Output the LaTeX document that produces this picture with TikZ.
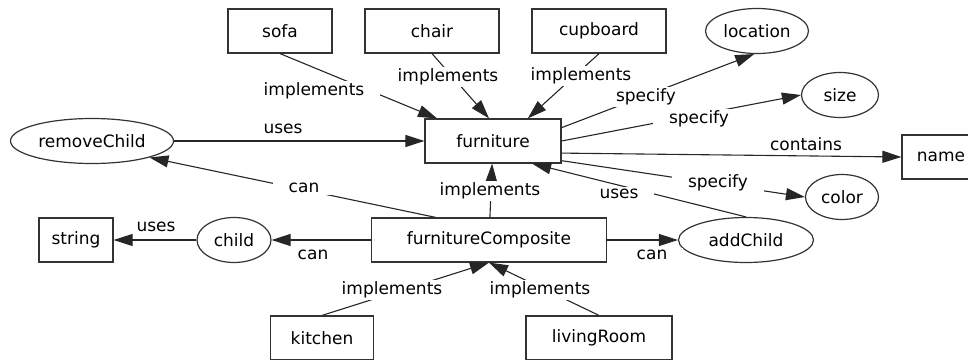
\documentclass[tikz,border=0pt]{standalone}
\usepackage{fontspec}
\setmainfont{DejaVu Sans}
\usetikzlibrary{shapes.geometric,arrows.meta}

\begin{document}
\begin{tikzpicture}[x=1pt, y=-1pt, >={Triangle[length=19pt,width=12pt]},
    every node/.style={font=\fontsize{17}{20}\selectfont},
    box/.style={draw=black!80, line width=1.2pt, minimum height=44pt, inner sep=0pt},
    oval/.style={ellipse, draw=black!80, line width=1.2pt, minimum height=45pt, inner sep=0pt},
    lbl/.style={fill=white, inner xsep=16pt, inner ysep=2pt},
    link/.style={->, line width=1.1pt, draw=black!85}]
    \useasboundingbox (0,0) rectangle (968,359);

    % Classes
    \node[box, minimum width=104pt] (sofa) at (280,31) {sofa};
    \node[box, minimum width=134pt] (chair) at (432,31) {chair};
    \node[box, minimum width=134pt] (cupboard) at (599,31) {cupboard};
    \node[box, minimum width=136pt] (furniture) at (493,141) {furniture};
    \node[box, minimum width=78pt] (name) at (941,157) {name};
    \node[box, minimum width=74pt] (string) at (76,240) {string};
    \node[box, minimum width=235pt] (furnitureComposite) at (489,240) {furnitureComposite};
    \node[box, minimum width=103pt] (kitchen) at (322,338) {kitchen};
    \node[box, minimum width=146pt] (livingRoom) at (599,338) {livingRoom};

    % Properties and methods
    \node[oval, minimum width=103pt] (location) at (757,31) {location};
    \node[oval, minimum width=77pt] (size) at (840,95) {size};
    \node[oval, minimum width=73pt] (color) at (842,197) {color};
    \node[oval, minimum width=163pt] (removeChild) at (92,141) {removeChild};
    \node[oval, minimum width=74pt] (child) at (234,240) {child};
    \node[oval, minimum width=135pt] (addChild) at (746,240) {addChild};

    % Relations
    \draw[link] (sofa.south) -- (furniture.158);
    \draw[link] (chair.south) -- (furniture.100);
    \draw[link] (cupboard.south) -- (furniture.33);
    \draw[link] (furniture.11) -- (location.-97);
    \draw[link] (furniture.east) -- (size.west);
    \draw[link] (furniture.-10) -- (name.west);
    \draw[link] (furniture.-16) -- (color.west);
    \draw[link] (addChild.north) -- (furniture.-30);
    \draw[link] (removeChild) -- (furniture);
    \draw[link] (furnitureComposite.157) -- (removeChild.-16);
    \draw[link] (furnitureComposite) -- (furniture);
    \draw[link] (furnitureComposite) -- (child);
    \draw[link] (child) -- (string);
    \draw[link] (furnitureComposite) -- (addChild);
    \draw[link] (kitchen.north) -- (furnitureComposite.south);
    \draw[link] (livingRoom.north) -- (furnitureComposite.south);

    % Relation labels
    \node[lbl] (impSofa) at (314,91) {implements};
    \node[lbl] (impChair) at (448,77) {implements};
    \node[lbl] (impCupboard) at (581,76) {implements};
    \node[lbl] (specLocation) at (646,97) {specify};
    \node[lbl] (specSize) at (699,119) {specify};
    \node[lbl] (contName) at (806,144) {contains};
    \node[lbl] (specColor) at (718,183) {specify};
    \node[lbl] (usesAdd) at (619,194) {uses};
    \node[lbl] (usesRemove) at (283,129) {uses};
    \node[lbl] (canRemove) at (304,188) {can};
    \node[lbl] (impComposite) at (490,191) {implements};
    \node[lbl] (canChild) at (313,255) {can};
    \node[lbl] (usesString) at (156,227) {uses};
    \node[lbl] (canAdd) at (652,255) {can};
    \node[lbl] (impKitchen) at (392,290) {implements};
    \node[lbl] (impLiving) at (540,290) {implements};
\end{tikzpicture}
\end{document}
